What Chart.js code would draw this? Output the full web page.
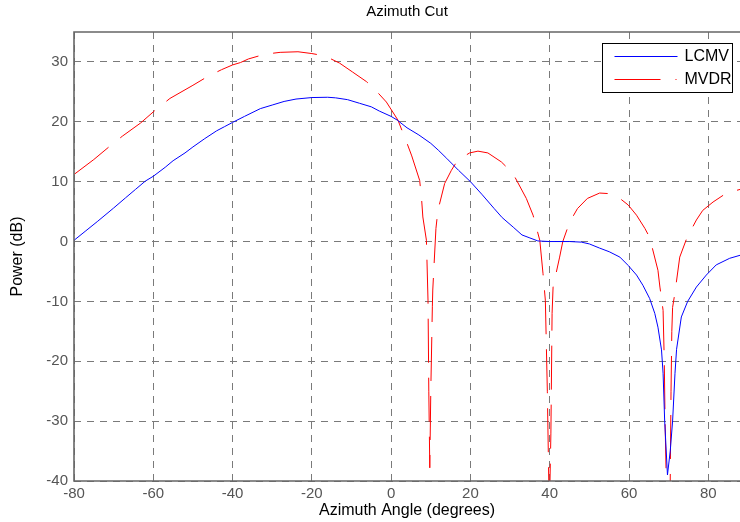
<!DOCTYPE html>
<html>
<head>
<meta charset="utf-8">
<script src="https://cdn.jsdelivr.net/npm/chart.js@4.4.1/dist/chart.umd.min.js"></script>
<style>
  html, body { margin: 0; padding: 0; background: #ffffff; }
  canvas { display: block; }
</style>
</head>
<body>
<canvas id="c" width="740" height="522"></canvas>
<script>
// ---- Data ----
const chartTitle = "Azimuth Cut";
const xAxisTitle = "Azimuth Angle (degrees)";
const yAxisTitle = "Power (dB)";
const xTickValues = [-80, -60, -40, -20, 0, 20, 40, 60, 80];
const yTickValues = [-40, -30, -20, -10, 0, 10, 20, 30];

const lcmvLabel = "LCMV";
const lcmvAngles = [-80, -77, -74, -70, -67, -64.5, -62, -60, -57, -55, -52, -50, -47, -44, -42, -40, -37, -33, -30, -27, -24, -20, -16, -14, -11, -8, -5, -3, 0, 1.5, 4, 7, 10, 12, 14, 17, 20, 23, 26, 28, 30.8, 33, 35, 37, 40, 45, 48, 50, 52.6, 55, 57.7, 59.8, 61.9, 63.5, 65.2, 66.5, 67.3, 68.2, 68.6, 69, 69.7, 70.4, 71, 71.6, 72, 73.2, 74.8, 77, 79.5, 82, 85.4, 88];
const lcmvPower  = [0.2, 1.8, 3.4, 5.6, 7.3, 8.7, 10.1, 10.9, 12.4, 13.5, 14.8, 15.8, 17.2, 18.5, 19.2, 19.9, 20.9, 22.2, 22.8, 23.4, 23.8, 24.05, 24.1, 24.0, 23.7, 23.1, 22.5, 21.8, 20.9, 20.3, 19.0, 17.8, 16.4, 15.2, 13.9, 11.9, 10.0, 7.8, 5.5, 4.0, 2.4, 1.1, 0.6, 0.1, 0, 0, -0.1, -0.4, -1.1, -1.7, -2.6, -4.0, -5.6, -7.3, -9.5, -12.0, -14.3, -18.1, -22, -30, -39, -35, -30, -22, -18, -12.6, -10, -7.6, -5.6, -3.9, -2.8, -2.3];

const mvdrLabel = "MVDR";
const mvdrAngles = [-80, -75, -71.2, -67.8, -63.2, -59.4, -55.8, -50, -46.2, -42.8, -40, -38, -36, -31.8, -28, -23.5, -20, -16.7, -13, -9.7, -6.2, -4.1, -1.2, 1.7, 3.9, 5.2, 7.2, 7.7, 8.0, 8.9, 9.3, 9.5, 9.75, 10.0, 10.4, 10.5, 11.3, 11.8, 13.5, 15.2, 16.8, 19.8, 21.9, 24.4, 27.8, 30.7, 34.1, 35.8, 37.5, 38.3, 38.9, 39.4, 39.9, 40.3, 40.6, 40.85, 42.5, 43.3, 45, 47, 49.5, 52.6, 55, 57.7, 59.8, 61.9, 64, 65.2, 67.3, 67.8, 68.6, 68.9, 69.1, 69.4, 69.6, 70.2, 70.4, 70.6, 70.8, 71, 71.6, 72.8, 74.6, 77, 78.6, 81.2, 84.6, 88];
const mvdrPower  = [11.2, 13.7, 15.8, 17.6, 19.8, 22.0, 23.9, 26.1, 27.6, 28.7, 29.5, 29.9, 30.5, 31.3, 31.6, 31.7, 31.4, 31.0, 29.8, 28.3, 26.7, 25.4, 23.3, 20.3, 16.6, 14.3, 10.2, 6.9, 4.1, 0.2, -9.8, -25, -37.8, -25, -10.8, -8.1, 2.2, 5.2, 9.7, 11.9, 13.6, 14.8, 15.1, 14.8, 13.3, 11.4, 7.2, 4.4, 0.2, -5.3, -9.8, -25, -46, -32, -12, -7.6, -2.6, 0, 3.2, 5.5, 7.2, 8.1, 8.0, 7.2, 6.1, 4.4, 2.2, 0.7, -4.8, -7.6, -11.5, -20, -30, -40, -48, -48, -40, -25, -15, -11, -8.5, -2.6, 0.6, 3.6, 5.2, 6.6, 8.1, 8.7];

const xMin = -80, xMax = 88;
const yMin = -40, yMax = 35;

// ---- Build chart ----
const toPoints = (xs, ys) => xs.map((x, i) => ({ x: x, y: ys[i] }));

const frameColor = '#666666';
const gridColor = '#7a7a7a';
const gridDash = [7, 6];
const mvdrDash = [44, 15];
const mvdrLegendDash = [46, 15, 1, 15];

const framePlugin = {
  id: 'frame',
  afterDatasetsDraw(chart) {
    const { ctx, chartArea: a } = chart;
    ctx.save();
    ctx.strokeStyle = frameColor;
    ctx.lineWidth = 1.6;
    ctx.beginPath();
    ctx.moveTo(a.right, a.top);
    ctx.lineTo(a.left, a.top);
    ctx.lineTo(a.left, a.bottom);
    ctx.lineTo(a.right, a.bottom);
    ctx.stroke();
    ctx.restore();
  }
};

const boxLegendPlugin = {
  id: 'boxLegend',
  afterDraw(chart) {
    const { ctx, chartArea: a } = chart;
    const ds = chart.data.datasets;
    const boxW = 130, rowH = 23, boxH = 49;
    const left = a.right - 8 - boxW + 0.5;
    const top = a.top + 11 + 0.5;
    ctx.save();
    ctx.fillStyle = '#ffffff';
    ctx.fillRect(left, top, boxW, boxH);
    ctx.strokeStyle = '#000000';
    ctx.lineWidth = 1;
    ctx.strokeRect(left, top, boxW, boxH);
    ds.forEach((d, i) => {
      const y = Math.round(top + 12 + i * rowH) + 0.5;
      ctx.beginPath();
      ctx.strokeStyle = d.borderColor;
      ctx.lineWidth = 1;
      ctx.setLineDash(d.legendDash || []);
      ctx.moveTo(left + 12, y);
      ctx.lineTo(left + 75, y);
      ctx.stroke();
      ctx.setLineDash([]);
      ctx.fillStyle = '#000000';
      ctx.font = '16px "Liberation Sans", Arial, sans-serif';
      ctx.textAlign = 'left';
      ctx.textBaseline = 'middle';
      ctx.fillText(d.label, left + 82, y + 0.5);
    });
    ctx.restore();
  }
};

new Chart(document.getElementById('c'), {
  type: 'line',
  data: {
    datasets: [
      {
        label: lcmvLabel,
        data: toPoints(lcmvAngles, lcmvPower),
        borderColor: '#0000ff',
        borderWidth: 1,
        pointRadius: 0,
        tension: 0,
        fill: false,
        order: 0
      },
      {
        label: mvdrLabel,
        data: toPoints(mvdrAngles, mvdrPower),
        borderColor: '#ff0000',
        borderWidth: 1,
        borderDash: mvdrDash,
        legendDash: mvdrLegendDash,
        pointRadius: 0,
        tension: 0,
        fill: false,
        order: 1
      }
    ]
  },
  options: {
    responsive: false,
    animation: false,
    devicePixelRatio: 1,
    layout: { padding: 0 },
    plugins: {
      legend: { display: false },
      tooltip: { enabled: false },
      title: {
        display: true,
        text: chartTitle,
        fullSize: false,
        color: '#000000',
        font: { family: '"Liberation Sans", Arial, sans-serif', size: 15, weight: 'normal' },
        padding: { top: 3, bottom: 11 }
      }
    },
    scales: {
      x: {
        type: 'linear',
        min: xMin,
        max: xMax,
        afterFit(scale) { scale.height = 41; },
        afterBuildTicks(scale) { scale.ticks = xTickValues.map(v => ({ value: v })); },
        ticks: {
          includeBounds: false,
          color: '#555555',
          padding: 4,
          maxRotation: 0,
          autoSkip: false,
          font: { family: '"Liberation Sans", Arial, sans-serif', size: 15 }
        },
        grid: { color: gridColor, lineWidth: 1, drawTicks: false },
        border: { display: false, dash: gridDash },
        title: {
          display: true,
          text: xAxisTitle,
          color: '#000000',
          font: { family: '"Liberation Sans", Arial, sans-serif', size: 16 },
          padding: { top: 0, bottom: 2 }
        }
      },
      y: {
        type: 'linear',
        min: yMin,
        max: yMax,
        afterFit(scale) { scale.width = 74; },
        afterBuildTicks(scale) { scale.ticks = yTickValues.map(v => ({ value: v })); },
        ticks: {
          includeBounds: false,
          color: '#555555',
          padding: 6,
          autoSkip: false,
          font: { family: '"Liberation Sans", Arial, sans-serif', size: 15 }
        },
        grid: { color: gridColor, lineWidth: 1, drawTicks: false },
        border: { display: false, dash: gridDash },
        title: {
          display: true,
          text: yAxisTitle,
          color: '#000000',
          font: { family: '"Liberation Sans", Arial, sans-serif', size: 16 },
          padding: { top: 8, bottom: 0 }
        }
      }
    }
  },
  plugins: [framePlugin, boxLegendPlugin]
});
</script>
</body>
</html>
